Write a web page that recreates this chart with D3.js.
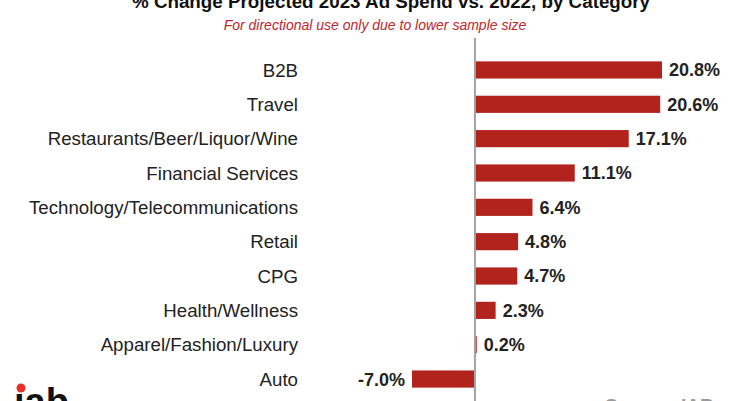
<!DOCTYPE html>
<html>
<head>
<meta charset="utf-8">
<script src="https://cdn.jsdelivr.net/npm/d3@7"></script>
<style>
  body { margin: 0; background: #fff; }
  svg { display: block; font-family: "Liberation Sans", Arial, sans-serif; }
</style>
</head>
<body>
<svg id="svg_chart" width="730" height="401"></svg>
<script>
var categories = ["B2B", "Travel", "Restaurants/Beer/Liquor/Wine", "Financial Services",
  "Technology/Telecommunications", "Retail", "CPG", "Health/Wellness",
  "Apparel/Fashion/Luxury", "Auto"];
var values = [20.8, 20.6, 17.1, 11.1, 6.4, 4.8, 4.7, 2.3, 0.2, -7.0];
var value_labels = ["20.8%", "20.6%", "17.1%", "11.1%", "6.4%", "4.8%", "4.7%", "2.3%", "0.2%", "-7.0%"];

var title_text = "% Change Projected 2023 Ad Spend vs. 2022, by Category";
var subtitle_text = "For directional use only due to lower sample size";

var width = 730;
var height = 401;

var x = d3.scaleLinear()
  .range([412, 662])
  .domain([-7, 20.8]);

var y = d3.scaleBand()
  .range([52.8, 396.2])
  .domain(categories)
  .paddingInner(0.5)
  .paddingOuter(0.25);

var the_svg = d3.select("#svg_chart");

// title (cut off at the top in the source picture)
the_svg.append("text")
  .attr("x", 391)
  .attr("y", 7.5)
  .attr("text-anchor", "middle")
  .attr("font-size", 18.8)
  .attr("font-weight", "bold")
  .attr("fill", "#111")
  .text(title_text);

the_svg.append("text")
  .attr("x", 375)
  .attr("y", 30)
  .attr("text-anchor", "middle")
  .attr("font-size", 14)
  .attr("font-style", "italic")
  .attr("fill", "#c0262b")
  .text(subtitle_text);

// bars
the_svg.selectAll("rect.bar")
  .data(values)
  .enter()
  .append("rect")
    .attr("class", "bar")
    .attr("x", function(d) { return Math.min(x(0), x(d)); })
    .attr("y", function(d, i) { return y(categories[i]); })
    .attr("width", function(d) { return Math.abs(x(d) - x(0)); })
    .attr("height", y.bandwidth())
    .attr("fill", "#b3231e");

// zero line
the_svg.append("line")
  .attr("x1", x(0))
  .attr("x2", x(0))
  .attr("y1", 38)
  .attr("y2", height)
  .attr("stroke", "#a3a3a3")
  .attr("stroke-width", 2);

// category labels
the_svg.selectAll("text.cat")
  .data(categories)
  .enter()
  .append("text")
    .attr("class", "cat")
    .attr("x", 298)
    .attr("y", function(d) { return y(d) + y.bandwidth() / 2; })
    .attr("dy", "0.36em")
    .attr("text-anchor", "end")
    .attr("font-size", 18.7)
    .attr("fill", "#222")
    .text(function(d) { return d; });

// value labels
the_svg.selectAll("text.val")
  .data(values)
  .enter()
  .append("text")
    .attr("class", "val")
    .attr("x", function(d) { return d >= 0 ? x(d) + 7 : x(d) - 7; })
    .attr("y", function(d, i) { return y(categories[i]) + y.bandwidth() / 2; })
    .attr("dy", "0.36em")
    .attr("text-anchor", function(d) { return d >= 0 ? "start" : "end"; })
    .attr("font-size", 18)
    .attr("font-weight", "bold")
    .attr("fill", "#222")
    .text(function(d, i) { return value_labels[i]; });

// iab logo, mostly below the edge
the_svg.append("text")
  .attr("x", 14)
  .attr("y", 415)
  .attr("font-size", 38)
  .attr("font-weight", "bold")
  .attr("fill", "#111")
  .text("\u0131ab");
the_svg.append("circle")
  .attr("cx", 21)
  .attr("cy", 388)
  .attr("r", 4.5)
  .attr("fill", "#e8302a");

// source, mostly below the edge
the_svg.append("text")
  .attr("x", 605)
  .attr("y", 412)
  .attr("font-size", 19)
  .attr("font-weight", "bold")
  .attr("fill", "#9a9a9a")
  .text("Source: IAB");
</script>
</body>
</html>
